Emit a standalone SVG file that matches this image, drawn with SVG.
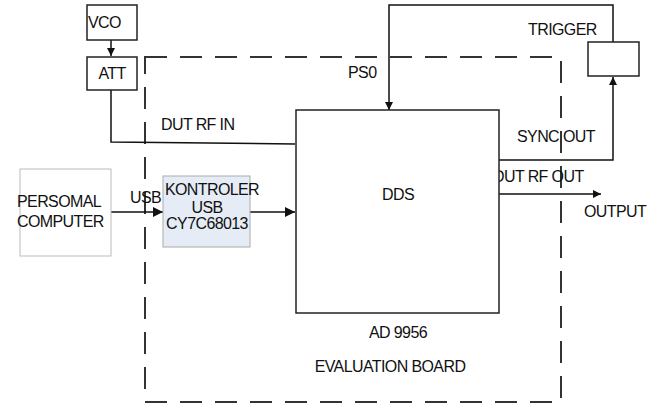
<svg xmlns="http://www.w3.org/2000/svg" width="660" height="405" viewBox="0 0 660 405">
<style>
text{font-family:"Liberation Sans",Arial,sans-serif;font-size:16px;letter-spacing:-0.6px;fill:#111}
.box{fill:#fff;stroke:#222;stroke-width:1.5}
.ln{fill:none;stroke:#111;stroke-width:1.5}
.dash{fill:none;stroke:#333;stroke-width:2;stroke-dasharray:22 13}
</style>
<defs>
<marker id="ah" viewBox="0 0 10 10" refX="10" refY="5" markerWidth="8" markerHeight="8" markerUnits="userSpaceOnUse" orient="auto">
<path d="M0,0 L10,5 L0,10 z" fill="#111"/>
</marker>
<marker id="ahw" viewBox="0 0 10 10" refX="10" refY="5" markerWidth="12" markerHeight="10" markerUnits="userSpaceOnUse" orient="auto">
<path d="M0,0 L10,5 L0,10 z" fill="#111"/>
</marker>
</defs>
<g id="board">
<rect class="dash" x="145" y="57" width="416" height="345"/>
<text x="390" y="372" text-anchor="middle">EVALUATION BOARD</text>
</g>
<g id="connectors">
<line class="ln" x1="111" y1="40" x2="111" y2="56" marker-end="url(#ah)"/>
<polyline class="ln" points="111,90 111,142 295,144"/>
<line class="ln" x1="111" y1="212" x2="163" y2="212" marker-end="url(#ahw)"/>
<line class="ln" x1="250" y1="212" x2="295" y2="212" marker-end="url(#ahw)"/>
<polyline class="ln" points="613,42 613,5 389,5 389,110" marker-end="url(#ah)"/>
<polyline class="ln" points="499,160 613,160 613,77" marker-end="url(#ah)"/>
<line class="ln" x1="499" y1="194" x2="601" y2="194" marker-end="url(#ah)"/>
<text x="161" y="130">DUT RF IN</text>
<text x="130" y="203">USB</text>
<text x="348" y="78">PS0</text>
<text x="517" y="142">SYNC OUT</text>
<text x="493" y="182">DUT RF OUT</text>
<text x="584" y="217">OUTPUT</text>
<text x="528" y="35">TRIGGER</text>
</g>
<g id="vco">
<rect class="box" x="87" y="5" width="50" height="35"/>
<text x="88" y="28">VCO</text>
</g>
<g id="att">
<rect class="box" x="87" y="57" width="50" height="33"/>
<text x="112" y="79" text-anchor="middle">ATT</text>
</g>
<g id="pc">
<rect x="20" y="169" width="91" height="87" fill="#fff" stroke="#bbb" stroke-width="1"/>
<text x="17" y="207" letter-spacing="-1.1">PERSOMAL</text>
<text x="17" y="227" letter-spacing="-0.9">COMPUTER</text>
</g>
<g id="kontroler">
<rect x="163" y="176" width="87" height="71" fill="#e6ecf6" stroke="#aaa" stroke-width="1"/>
<text x="212" y="195" text-anchor="middle">KONTROLER</text>
<text x="207" y="213" text-anchor="middle">USB</text>
<text x="207" y="229" text-anchor="middle">CY7C68013</text>
</g>
<g id="dds">
<rect class="box" x="296" y="110" width="203" height="203"/>
<text x="398" y="200" text-anchor="middle">DDS</text>
<text x="398" y="338" text-anchor="middle">AD 9956</text>
</g>
<g id="trigger">
<rect class="box" x="588" y="42" width="51" height="34"/>
</g>
</svg>
